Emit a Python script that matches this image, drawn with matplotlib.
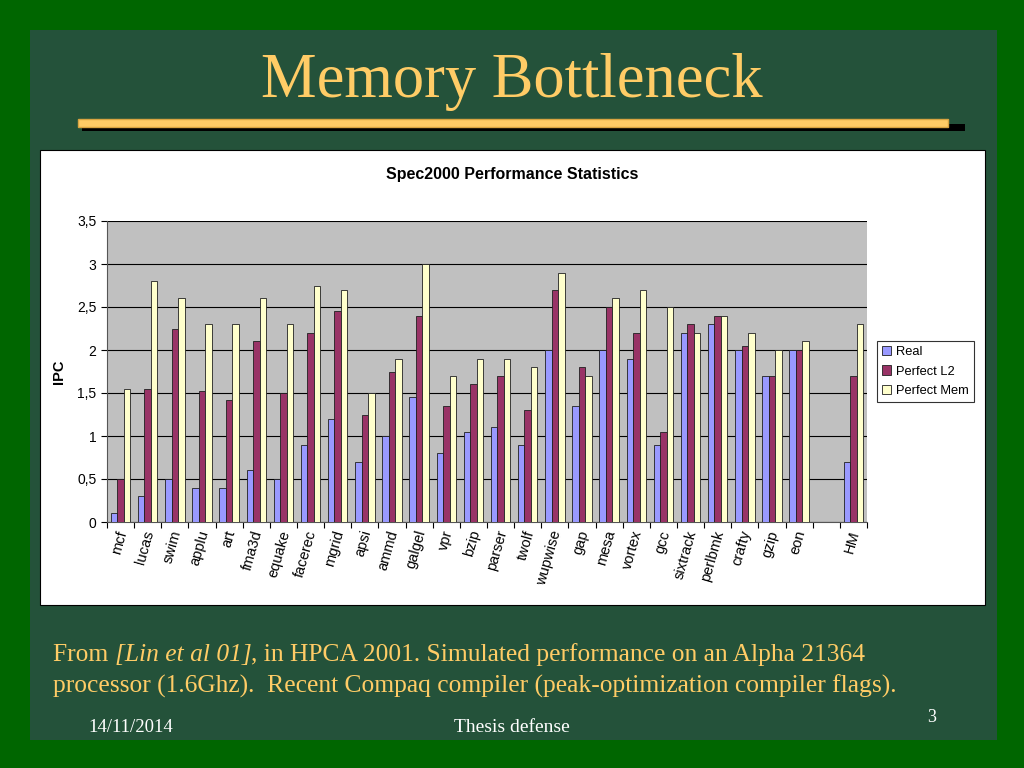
import numpy as np
import matplotlib
matplotlib.use("Agg")
import matplotlib.pyplot as plt
from matplotlib.patches import Rectangle

# benchmarks (blank slot before the harmonic mean)
bench = ["mcf", "lucas", "swim", "applu", "art", "fma3d", "equake", "facerec",
         "mgrid", "apsi", "ammd", "galgel", "vpr", "bzip", "parser", "twolf",
         "wupwise", "gap", "mesa", "vortex", "gcc", "sixtrack", "perlbmk",
         "crafty", "gzip", "eon", "", "HM"]
real = [0.1, 0.3, 0.5, 0.4, 0.4, 0.6, 0.5, 0.9, 1.2, 0.7, 1.0, 1.45, 0.8, 1.05,
        1.1, 0.9, 2.0, 1.35, 2.0, 1.9, 0.9, 2.2, 2.3, 2.0, 1.7, 2.0, np.nan, 0.7]
perf_l2 = [0.5, 1.55, 2.25, 1.52, 1.42, 2.1, 1.5, 2.2, 2.45, 1.25, 1.75, 2.4,
           1.35, 1.6, 1.7, 1.3, 2.7, 1.8, 2.5, 2.2, 1.05, 2.3, 2.4, 2.05, 1.7,
           2.0, np.nan, 1.7]
perf_mem = [1.55, 2.8, 2.6, 2.3, 2.3, 2.6, 2.3, 2.75, 2.7, 1.5, 1.9, 3.0, 1.7,
            1.9, 1.9, 1.8, 2.9, 1.7, 2.6, 2.7, 2.5, 2.2, 2.4, 2.2, 2.0, 2.1,
            np.nan, 2.3]
yticks = [0, 0.5, 1, 1.5, 2, 2.5, 3, 3.5]
ylabels = ["0", "0,5", "1", "1,5", "2", "2,5", "3", "3,5"]

gold = "#FFCC66"
fig = plt.figure(figsize=(10.24, 7.68), dpi=100)
fig.patch.set_facecolor("#006600")

# slide panel
bg = fig.add_axes([0, 0, 1, 1], zorder=0)
bg.set_xlim(0, 1024)
bg.set_ylim(768, 0)
bg.axis("off")
bg.add_patch(Rectangle((30, 30), 967, 710, facecolor="#24523a", edgecolor="none"))
bg.add_patch(Rectangle((82, 124), 883, 7, facecolor="black", edgecolor="none"))
bg.add_patch(Rectangle((78, 119), 870, 8, facecolor=gold, edgecolor="#d9a441", lw=1))
bg.add_patch(Rectangle((40, 150), 945, 455, facecolor="white", edgecolor="black", lw=0.8))

bg.text(512, 82, "Memory Bottleneck", color=gold, family="Liberation Serif",
        fontsize=45, ha="center", va="center")
bg.text(512, 174, "Spec2000 Performance Statistics", fontsize=11.5,
        fontweight="bold", family="Liberation Sans", ha="center", va="center")

# chart
ax = fig.add_axes([107 / 1024, 1 - 522 / 768, 760 / 1024, 301 / 768], zorder=1)
ax.set_facecolor("#C0C0C0")
x = np.arange(len(bench))
w = 0.24
ax.bar(x - w, real, w, color="#9999FF", edgecolor="#202020", lw=0.6, label="Real", zorder=3)
ax.bar(x, perf_l2, w, color="#993366", edgecolor="#202020", lw=0.6, label="Perfect L2", zorder=3)
ax.bar(x + w, perf_mem, w, color="#FFFFCC", edgecolor="#202020", lw=0.6, label="Perfect Mem", zorder=3)
ax.set_xlim(-0.5, len(bench) - 0.5)
ax.set_ylim(0, 3.5)
ax.set_yticks(yticks)
ax.set_yticklabels(ylabels, family="Liberation Sans", fontsize=10)
ax.yaxis.grid(True, color="black", lw=0.8, zorder=1)
ax.set_axisbelow(True)
ax.set_xticks(np.arange(len(bench) + 1) - 0.5)
ax.set_xticklabels([])
ax.tick_params(axis="x", direction="out", length=4)
ax.tick_params(axis="y", direction="out", length=4)
for i, name in enumerate(bench):
    ax.text(i + 0.08, -0.1, name, rotation=74, rotation_mode="anchor",
            ha="right", va="center", fontsize=10.5, family="Liberation Sans")
for s in ["top", "right"]:
    ax.spines[s].set_visible(False)
ax.spines["left"].set_color("#555555")
ax.spines["bottom"].set_color("#555555")
ax.set_ylabel("IPC", fontsize=10.5, fontweight="bold", family="Liberation Sans", labelpad=8)

leg = ax.legend(loc="center left", bbox_to_anchor=(1.013, 0.50), frameon=True,
                fancybox=False, edgecolor="black", handlelength=0.7,
                handleheight=0.7, handletextpad=0.35, borderpad=0.4, labelspacing=0.55,
                borderaxespad=0, prop={"family": "Liberation Sans", "size": 9.3})
leg.get_frame().set_linewidth(0.8)

# caption with italic reference
fig.canvas.draw()
r = fig.canvas.get_renderer()
parts = [("From ", "normal"), ("[Lin et al 01]", "italic"),
         (", in HPCA 2001. Simulated performance on an Alpha 21364", "normal")]
xx = 53
for txt, st in parts:
    t = bg.text(xx, 655, txt, color=gold, family="Liberation Serif", fontsize=18.4,
                style=st, ha="left", va="center")
    ext = t.get_window_extent(renderer=r)
    xx += ext.width
bg.text(53, 686, "processor (1.6Ghz).  Recent Compaq compiler (peak-optimization compiler flags).",
        color=gold, family="Liberation Serif", fontsize=18.4, ha="left", va="center")

bg.text(88, 727, "14/11/2014", color="white", family="Liberation Serif", fontsize=13.5,
        ha="left", va="center")
bg.text(512, 727, "Thesis defense", color="white", family="Liberation Serif", fontsize=14,
        ha="center", va="center")
bg.text(932, 718, "3", color="white", family="Liberation Serif", fontsize=13,
        ha="center", va="center")

fig.savefig("out.png", dpi=100, facecolor=fig.get_facecolor())
